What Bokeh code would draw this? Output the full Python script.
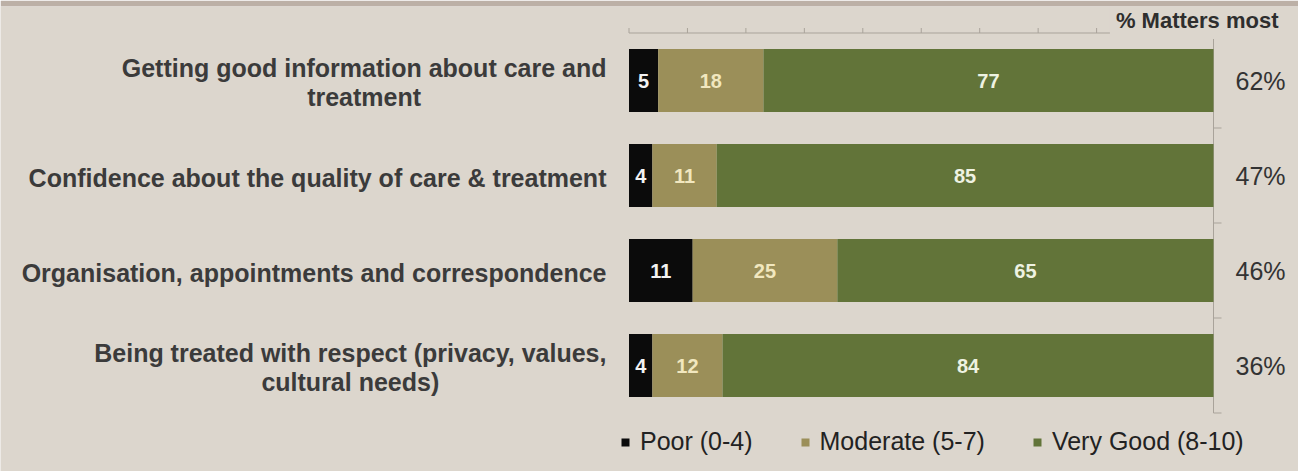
import glob
import numpy as np
from bokeh.plotting import figure
from bokeh.models import Range1d, Label, Legend, LegendItem
from bokeh.core.properties import value
from bokeh.embed import file_html
from bokeh.resources import INLINE

# ---------------- data ----------------
categories = [
    "Getting good information about care and\ntreatment",
    "Confidence about the quality of care & treatment",
    "Organisation, appointments and correspondence",
    "Being treated with respect (privacy, values,\ncultural needs)",
]
poor = [5, 4, 11, 4]
moderate = [18, 11, 25, 12]
very_good = [77, 85, 65, 84]
matters_most = [62, 47, 46, 36]
series_names = ["Poor (0-4)", "Moderate (5-7)", "Very Good (8-10)"]
axis_ticks = list(range(0, 101, 10))

# ---------------- layout / style ----------------
W, H = 1298, 471
BAND = 6
BG = "#dcd6cd"
BAND_COLOR = "#bcb0a6"
COLORS = ["#0b0b0b", "#9b8f59", "#627439"]
VAL_COLORS = ["#f2f2f2", "#f1e7bf", "#eef2e2"]
BAR_L, BAR_R = 628.5, 1213.0      # pixel extent of 0..100 %
ROW0, ROW_STEP = 80.0, 95.0       # pixel centre of first row, row spacing
BAR_H_PX = 63.0
LABEL_RIGHT = 606.0
PCT_CX = 1260.0
FONT = "Liberation Sans"

def px_to_x(px):
    return (px - BAR_L) / (BAR_R - BAR_L) * 100.0

UNIT_Y = 1.0 / ROW_STEP

p = figure(width=W, height=H, output_backend="svg", toolbar_location=None,
           x_range=Range1d(px_to_x(0), px_to_x(W)),
           y_range=Range1d((H - ROW0) / ROW_STEP, (BAND - ROW0) / ROW_STEP),
           min_border_left=0, min_border_right=0, min_border_bottom=0,
           min_border_top=BAND)
p.axis.visible = False
p.grid.visible = False
p.outline_line_color = None
p.background_fill_color = BG
p.border_fill_color = BAND_COLOR

ys = np.arange(len(categories), dtype=float)
vals = np.array([poor, moderate, very_good], dtype=float)
totals = vals.sum(axis=0)
pct = vals / totals * 100.0
rights = np.cumsum(pct, axis=0)
lefts = rights - pct

# axes (top value axis, right category axis)
AX_COLOR = "#a9a39a"
y_top = -0.5
y_bot = len(categories) - 0.5
p.segment(x0=[0], y0=[y_top], x1=[100], y1=[y_top], line_color=AX_COLOR, line_width=1)
p.segment(x0=axis_ticks, y0=[y_top] * len(axis_ticks), x1=axis_ticks,
          y1=[y_top - 5 * UNIT_Y] * len(axis_ticks), line_color=AX_COLOR, line_width=1)
bounds = list(np.arange(len(categories) + 1) - 0.5)
p.segment(x0=[100], y0=[y_top], x1=[100], y1=[y_bot], line_color=AX_COLOR, line_width=1)
p.segment(x0=[100] * len(bounds), y0=bounds, x1=[100 + px_to_x(BAR_L + 8)] * len(bounds),
          y1=bounds, line_color=AX_COLOR, line_width=1)

# bars
renderers = []
for k in range(3):
    r = p.hbar(y=ys, left=lefts[k], right=rights[k], height=BAR_H_PX * UNIT_Y,
               fill_color=COLORS[k], line_color=None)
    renderers.append(r)
    p.text(x=(lefts[k] + rights[k]) / 2, y=ys, text=[str(int(v)) for v in vals[k]],
           text_align="center", text_baseline="middle", text_font=value(FONT),
           text_font_style="bold", text_font_size="20px", text_color=VAL_COLORS[k])

# category labels (multi-line labels centred, block right edge at LABEL_RIGHT)
def measure(s, size):
    try:
        from PIL import ImageFont
        files = glob.glob("/usr/share/fonts/**/LiberationSans-Bold.ttf", recursive=True)
        if not files:
            return None
        f = ImageFont.truetype(files[0], size)
        return f.getlength(s)
    except Exception:
        return None

LBL_SIZE = 25
cx, aligns = [], []
for lab in categories:
    widths = [measure(line, LBL_SIZE) for line in lab.split("\n")]
    if None in widths:
        cx.append(px_to_x(LABEL_RIGHT))
        aligns.append("right")
    else:
        cx.append(px_to_x(LABEL_RIGHT - max(widths) / 2))
        aligns.append("center")
p.text(x=cx, y=ys + 2 * UNIT_Y, text=categories,
       text_align=aligns[0] if len(set(aligns)) == 1 else "right",
       text_baseline="middle", text_font=value(FONT), text_font_style="bold",
       text_font_size=f"{LBL_SIZE}px", text_color="#3b3b3b", text_line_height=1.05)

# % matters most
p.text(x=[px_to_x(PCT_CX)] * len(ys), y=ys, text=[f"{v}%" for v in matters_most],
       text_align="center", text_baseline="middle", text_font=value(FONT),
       text_font_size="25px", text_color="#333333")

p.add_layout(Label(x=1284, y=H - 20, x_units="screen", y_units="screen",
                   text="% Matters most", text_align="right", text_baseline="middle",
                   text_font=FONT, text_font_style="bold", text_font_size="22px",
                   text_color="#2e2e2e", background_fill_color=BG, padding=6))

legend = Legend(items=[LegendItem(label=n, renderers=[r]) for n, r in zip(series_names, renderers)],
                orientation="horizontal", location=(620, 15), glyph_width=10, glyph_height=10,
                label_height=26, label_standoff=10, spacing=47, padding=0, margin=0,
                border_line_color=None, background_fill_alpha=0,
                label_text_font=FONT, label_text_font_size="25px", label_text_color="#222222")
p.add_layout(legend, "center")

open("out.html", "w").write(file_html(p, INLINE))
